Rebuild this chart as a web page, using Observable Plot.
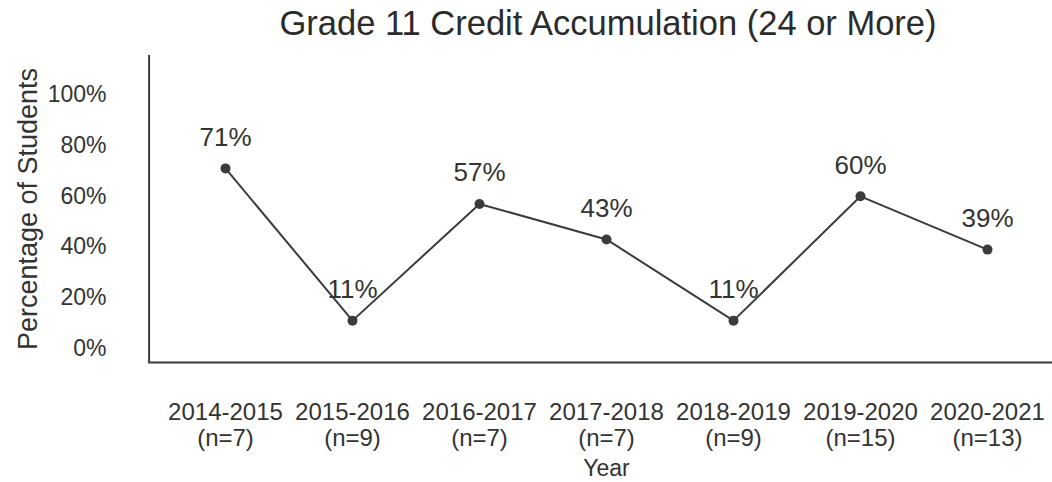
<!DOCTYPE html>
<html>
<head>
<meta charset="utf-8">
<script src="https://cdn.jsdelivr.net/npm/d3@7"></script>
<script src="https://cdn.jsdelivr.net/npm/@observablehq/plot@0.6"></script>
<style>
  html, body { margin: 0; padding: 0; background: #fff; }
  #wrap { position: relative; width: 1052px; height: 482px; overflow: hidden; }
  #title { position: absolute; left: 0; top: 4px; width: 1216px; text-align: center;
    font-family: "Liberation Sans", Arial, sans-serif; font-size: 34.5px; color: #2b2b2b; }
</style>
</head>
<body>
<div id="wrap">
  <div id="title">Grade 11 Credit Accumulation (24 or More)</div>
  <div id="chart"></div>
</div>
<script>
const years = ["2014-2015", "2015-2016", "2016-2017", "2017-2018", "2018-2019", "2019-2020", "2020-2021"];
const counts = [7, 9, 7, 7, 9, 15, 13];
const percents = [71, 11, 57, 43, 11, 60, 39];
const yTicks = [0, 20, 40, 60, 80, 100];

const data = years.map((y, i) => ({year: y, n: counts[i], pct: percents[i]}));
const nByYear = new Map(years.map((y, i) => [y, counts[i]]));

const ink = "#3b3b3b";
const font = "Liberation Sans, Arial, sans-serif";
const xRange = [147.6, 1064.4];
const xPad = 0.6;
const step = (xRange[1] - xRange[0]) / (years.length - 1 + 2 * xPad);

const chart = Plot.plot({
  width: 1052,
  height: 482,
  marginLeft: 148,
  marginRight: 0,
  marginTop: 55,
  marginBottom: 120,
  style: {fontFamily: font, fontSize: "22px", color: "#333", background: "transparent"},
  x: {type: "point", domain: years, range: xRange, padding: xPad},
  y: {domain: [-5.5, 115.5]},
  marks: [
    Plot.axisY(yTicks, {tickSize: 0, tickPadding: 42, tickFormat: d => d + "%", fontSize: 23, label: null}),
    Plot.axisX(years, {tickSize: 0, tickPadding: 38, lineHeight: 1.12, fontSize: 24,
      tickFormat: d => `${d}\n(n=${nByYear.get(d)})`, label: null}),
    Plot.ruleX([years[0]], {dx: -step * xPad, stroke: ink, strokeWidth: 2}),
    Plot.ruleY([-5.5], {stroke: ink, strokeWidth: 2.2}),
    Plot.line(data, {x: "year", y: "pct", stroke: ink, strokeWidth: 2}),
    Plot.dot(data, {x: "year", y: "pct", r: 5, fill: ink, stroke: null}),
    Plot.text(data, {x: "year", y: "pct", text: d => d.pct + "%", dy: -31, fontSize: 26, fill: "#333"}),
    Plot.text(["Percentage of Students"], {frameAnchor: "left", textAnchor: "middle", rotate: -90, dx: -120, fontSize: 27, fill: "#333"}),
    Plot.text(["Year"], {frameAnchor: "bottom", dx: 6, dy: 113, fontSize: 23, fill: "#333"})
  ]
});
document.getElementById("chart").appendChild(chart);
</script>
</body>
</html>
